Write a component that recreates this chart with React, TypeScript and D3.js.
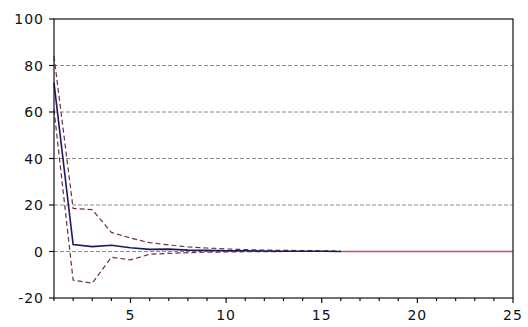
import React from "react";
import * as d3 from "d3";

// impulse response, periods 1..16, axis runs to 25
const periods = [1, 2, 3, 4, 5, 6, 7, 8, 9, 10, 11, 12, 13, 14, 15, 16];
const response = [72.5, 3.0, 2.1, 2.7, 1.6, 0.9, 1.0, 0.6, 0.5, 0.3, 0.3, 0.2, 0.1, 0.1, 0.1, 0.0];
const upper = [84, 18.5, 18, 8.2, 5.8, 3.8, 2.8, 2.0, 1.5, 1.1, 0.8, 0.6, 0.5, 0.4, 0.3, 0.2];
const lower = [61, -12.3, -13.6, -2.5, -3.6, -1.2, -0.8, -0.5, -0.3, -0.2, -0.1, -0.1, 0, 0, 0, 0];
const tailPeriods = [16, 25];
const tailValues = [0, 0];

const yTicks = [-20, 0, 20, 40, 60, 80, 100];
const gridTicks = [20, 40, 60, 80];
const xMajor = [5, 10, 15, 20, 25];

const W = 528;
const H = 327;
const margin = { left: 54, right: 15, top: 19, bottom: 29 };

export default function App() {
  const x = d3.scaleLinear().domain([1, 25]).range([margin.left, W - margin.right]);
  const y = d3.scaleLinear().domain([-20, 100]).range([H - margin.bottom, margin.top]);

  const line = d3
    .line<[number, number]>()
    .x((d) => x(d[0]))
    .y((d) => y(d[1]));

  const pts = (vals: number[], ps: number[]) => ps.map((p, i) => [p, vals[i]] as [number, number]);

  const minorTicks = d3.range(1, 26);
  const font = "'DejaVu Sans', Verdana, sans-serif";

  return (
    <svg
      width={W}
      height={H}
      style={{ position: "absolute", left: 0, top: 0, background: "#fff" }}
    >
      {/* grid */}
      {gridTicks.map((t) => (
        <line
          key={"g" + t}
          x1={x(1)}
          x2={x(25)}
          y1={y(t)}
          y2={y(t)}
          stroke="#8a8a8a"
          strokeWidth={1}
          strokeDasharray="4,2"
        />
      ))}
      <line
        x1={x(1)}
        x2={x(16)}
        y1={y(0)}
        y2={y(0)}
        stroke="#8a8a8a"
        strokeWidth={1}
        strokeDasharray="4,2"
      />
      <path d={line(pts(tailValues, tailPeriods)) || ""} fill="none" stroke="#d2476a" strokeWidth={1.3} />

      {/* bands */}
      <path
        d={line(pts(upper, periods)) || ""}
        fill="none"
        stroke="#6e2f45"
        strokeWidth={1.2}
        strokeDasharray="5,3"
      />
      <path
        d={line(pts(lower, periods)) || ""}
        fill="none"
        stroke="#6e2f45"
        strokeWidth={1.2}
        strokeDasharray="5,3"
      />
      <path d={line(pts(response, periods)) || ""} fill="none" stroke="#1c1a5e" strokeWidth={1.6} />

      {/* frame */}
      <rect
        x={x(1)}
        y={y(100)}
        width={x(25) - x(1)}
        height={y(-20) - y(100)}
        fill="none"
        stroke="#111"
        strokeWidth={1.2}
      />

      {/* y axis */}
      {yTicks.map((t) => (
        <g key={"y" + t}>
          <line x1={x(1) - 5} x2={x(1)} y1={y(t)} y2={y(t)} stroke="#111" strokeWidth={1.2} />
          <text
            x={x(1) - 10}
            y={y(t)}
            dy="0.36em"
            textAnchor="end"
            fontFamily={font}
            fontSize={14}
            letterSpacing={1}
            fill="#111"
          >
            {t}
          </text>
        </g>
      ))}

      {/* x axis */}
      {minorTicks.map((t) => (
        <line
          key={"xm" + t}
          x1={x(t)}
          x2={x(t)}
          y1={y(-20)}
          y2={y(-20) + (t % 5 === 0 ? 5 : 3)}
          stroke="#111"
          strokeWidth={1.2}
        />
      ))}
      {xMajor.map((t) => (
        <text
          key={"xl" + t}
          x={x(t)}
          y={y(-20) + 22}
          textAnchor="middle"
          fontFamily={font}
          fontSize={14}
          letterSpacing={1}
          fill="#111"
        >
          {t}
        </text>
      ))}
    </svg>
  );
}
